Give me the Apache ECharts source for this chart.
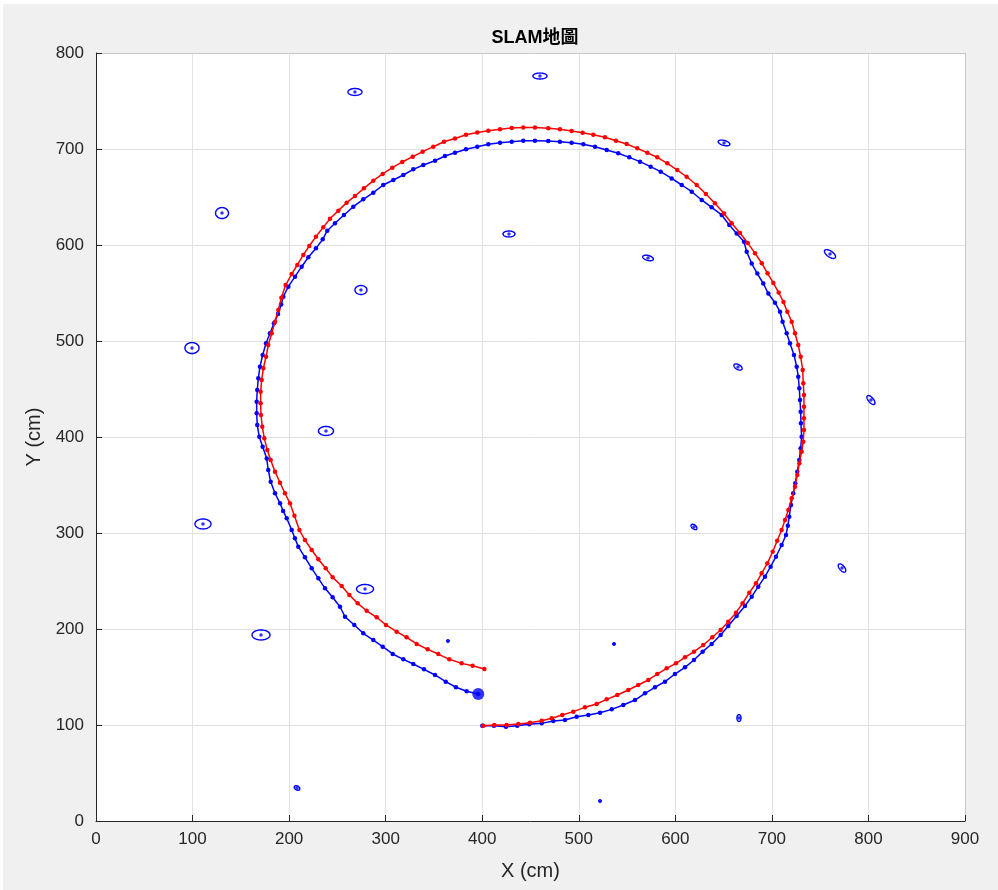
<!DOCTYPE html>
<html>
<head>
<meta charset="utf-8">
<script src="https://cdn.jsdelivr.net/npm/echarts@6/dist/echarts.min.js"></script>
<style>
html, body { margin: 0; padding: 0; background: #fff; }
#main { position: absolute; left: 3px; top: 4px; width: 995px; height: 886px; background: #f0f0f0; }
</style>
</head>
<body>
<div id="main"></div>
<script>
// true path (red), cm
var truePath = [
  [401.1,99.3],[412.5,100],[425.3,100],[437.4,101],[449.5,102.4],[461.6,104.5],[471.9,107],[482.9,110.4],
  [494.3,113.9],[506.4,118.4],[518.5,121.9],[528.9,126.7],[539.9,131.3],[551.3,136.5],[561.6,141.7],[572,146.9],
  [581.3,153.1],[591,159],[600.7,164.2],[610,170.5],[619.3,176.4],[628.9,183.3],[638.3,191.4],[646.9,199],
  [654.8,207.6],[662.8,217],[669.7,226.8],[676.6,237.8],[683.5,247.6],[689.4,258],[695.3,268.4],[700.8,280.5],
  [705.5,292],[710.1,303.1],[713.6,313.5],[717,324],[720.5,336.1],[723.9,348.2],[726.3,360.4],[728.4,372.6],
  [730.8,384.7],[732.5,395.1],[733.2,407.3],[733.2,419.5],[733.2,431.6],[733.2,443.8],[732.5,455.9],[731.9,469.8],
  [729.8,483.6],[727.3,495.8],[723.9,508],[720.5,520.1],[716,530.5],[712,540.5],[707,550.5],[701.5,560.5],
  [695.5,570.5],[689.5,581],[682.5,591.5],[675,602],[667,612.5],[658.3,622.6],[650.4,632.8],[641,643.4],
  [631.7,653.1],[622.1,662.5],[611.7,671.1],[602,678.1],[591.7,685.1],[581.3,691.3],[571,696.1],[560.6,700.7],
  [549.6,705.2],[538.5,708.6],[527.1,712.2],[515,714.9],[504,717],[492.6,718.8],[480.5,720.5],[468.4,721.5],
  [454.6,722.4],[442.5,722.4],[430.5,722],[418.4,720.6],[406.3,718.9],[394.9,717.2],[383.2,714.8],[371.8,711],
  [360.4,707.6],[349.3,702.4],[338.3,697.2],[328,692],[317.2,686.5],[306.9,680.5],[296.9,674],[287.2,667],
  [277.5,659],[268.2,651],[259.6,644.1],[251,635.8],[242.3,627.4],[235.4,618.4],[227.8,608.7],[220.9,599],
  [214.7,589.6],[208.5,579.2],[202.7,569.8],[196.4,558.3],[192,545],[188.8,532.3],[185.4,520.1],[182,508],
  [178.4,495.8],[176.1,483.6],[173.3,471.5],[171.6,459.4],[170.5,447.2],[170.5,435.1],[170.9,422.9],[172.2,410.7],
  [174.3,398.6],[177.4,386.5],[180.9,376],[185.4,363.9],[190.6,352.4],[195.7,341.4],[200.9,330.9],[205.5,318],
  [210.6,303.1],[216.4,292.7],[223.4,282.3],[230.3,272.6],[237.9,263.2],[245.1,253.8],[254.4,244.8],[262.4,235.4],
  [271,226.7],[280.3,219],[290.7,212.2],[300.3,204.2],[311.4,197.2],[321.7,191.3],[332.1,184.4],[343.5,178.8],
  [354.5,173.9],[365.9,168.4],[378.7,164.2],[390.1,161.8],[402.2,158.3]
];

// estimated path (blue), cm
var estPath = [
  [400.1,99.3],[412.2,99.3],[424.6,98.3],[436.3,99.3],[448.7,100.7],[461.6,101.7],[473.6,104.2],[485.7,105.2],
  [497.8,108.6],[509.9,110.4],[522,112.8],[534.1,116.3],[546.1,120.8],[558.2,126],[568.6,133],[578.9,139.3],
  [589.3,145.1],[599.6,153.1],[610,160.1],[619.3,167.7],[628.3,176.4],[637.6,184.4],[646.9,193.8],[654.8,203.1],
  [663.5,213.5],[672.1,224],[679.1,233.7],[685.9,244.1],[692.8,254.5],[698.7,264.9],[704.2,275.3],[710.1,287.5],
  [714.6,297.9],[716.5,307.5],[718,317],[719.8,329.2],[722.1,341.3],[724.2,351.8],[726.3,363.9],[728.4,376],
  [729.8,388.2],[730.8,400.3],[730.1,414.2],[729.8,426.4],[729.1,438.5],[728.4,450.7],[727.3,462.8],[725.7,473.3],
  [722.9,485.4],[718.7,497.6],[715.3,508],[711.1,520.1],[708.4,530.5],[703.2,539.9],[696.3,549.5],[691.1,559.9],
  [684.9,570.3],[679.1,580.7],[673.9,593],[671.1,603.4],[663.5,612],[655.9,620.8],[648,631.3],[637.6,639.2],
  [627.3,646.9],[617,655.5],[606.6,662.5],[596.2,669.3],[584.8,676.4],[574.4,681.6],[563.4,686.8],[552.3,691.3],
  [540.9,695.5],[528.9,699],[516.8,702.4],[504.7,704.9],[492.6,706.6],[480.5,707.6],[468.4,708.3],[454.6,708.6],
  [442.5,708.6],[430.5,707.6],[418.4,706.6],[406.3,704.9],[394.9,702.4],[383.2,699.7],[371.8,696.1],[361.4,692.7],
  [351.1,687.8],[339,683.3],[328.6,678.8],[318.3,672.9],[307.9,667.7],[297.5,662.5],[287.2,654.5],[276.8,647.6],
  [266.5,639.9],[256.8,631.3],[247.5,622.6],[239.5,614.9],[234.8,605.9],[227.8,596.5],[219.9,587.2],[213,577.4],
  [206.1,567],[199.2,556.6],[194,546.1],[191.8,538],[188.5,528],[184.3,518.4],[180.2,508],[176.1,497.6],
  [172.6,485.4],[169.8,473.2],[168.1,461.1],[167,449],[166.4,436.8],[166.4,424.7],[167,412.5],[169.1,400.3],
  [172.6,389.9],[176.8,377.6],[178.4,365.6],[180.9,353.4],[185.4,341.4],[190.6,330.9],[193.8,323],[197.5,315.3],
  [202.7,303.1],[206,294.5],[209.5,285.8],[216.4,274.7],[223.4,263.2],[230.3,252.8],[237.2,242.4],[245.1,233],
  [252.7,223.2],[257.9,212.8],[267.5,204.2],[276.8,195.5],[287.2,188.5],[296.9,181.6],[307.3,174],[318.3,168.4],
  [328.6,163.5],[339.7,158],[351.1,152.1],[362.2,145.1],[372.8,139.3],[383.9,135.1],[395.9,132.3]
];

// landmarks: centre (cm), ellipse semi-axes (cm), tilt (deg)
var lmX    = [268.2, 459.8, 130.5, 427.7, 650.4, 571.7, 760.2, 274.4,  99.4, 664.9, 802.6, 238.2, 110.8, 619.3, 772.6, 278.6, 170.9, 364.5, 536.5, 665.9, 208.2, 522.0];
var lmY    = [759.4, 776.0, 633.3, 611.5, 706.3, 586.5, 590.6, 553.1, 492.7, 472.9, 438.5, 406.3, 309.4, 306.3, 263.5, 241.7, 193.8, 187.5, 184.4, 107.3,  34.4,  20.8];
var lmA    = [  7.3,   7.3,   6.7,   6.2,   6.2,   5.7,   6.7,   6.2,   7.3,   4.7,   5.7,   7.8,   8.3,   3.6,   5.2,   8.8,   9.3,   1.2,   1.2,   2.1,   3.1,   1.2];
var lmB    = [  3.6,   3.1,   5.7,   3.1,   2.6,   2.6,   3.1,   4.7,   5.7,   2.6,   2.6,   4.7,   5.2,   2.1,   2.6,   4.7,   5.2,   1.2,   1.2,   3.6,   2.1,   1.2];
var lmTilt = [    0,     0,     0,     0,   -15,   -15,   -35,     0,     0,   -30,   -50,     0,     0,   -40,   -50,     0,     0,     0,     0,     0,   -30,     0];

var landmarks = lmX.map(function (x, i) { return [x, lmY[i], lmA[i], lmB[i], lmTilt[i]]; });
var lmCentres = lmX.map(function (x, i) { return [x, lmY[i]]; });

var FONT = '"Liberation Sans", Arial, "Noto Sans CJK TC", sans-serif';
var AXIS_COLOR = '#262626';

function renderEllipse(params, api) {
    var cx = api.value(0), cy = api.value(1);
    var a = api.value(2), b = api.value(3);
    var ang = api.value(4) * Math.PI / 180;
    var pts = [];
    for (var i = 0; i < 48; i++) {
        var t = i / 48 * Math.PI * 2;
        var dx = a * Math.cos(t), dy = b * Math.sin(t);
        pts.push(api.coord([
            cx + dx * Math.cos(ang) - dy * Math.sin(ang),
            cy + dx * Math.sin(ang) + dy * Math.cos(ang)
        ]));
    }
    return {
        type: 'polygon',
        shape: { points: pts },
        style: { fill: 'none', stroke: '#0000ff', lineWidth: 1.4 }
    };
}

var chart = echarts.init(document.getElementById('main'), null, { renderer: 'canvas' });

chart.setOption({
    backgroundColor: '#f0f0f0',
    animation: false,
    title: {
        text: 'SLAM地圖',
        left: 527,
        top: 20,
        textAlign: 'center',
        textStyle: { fontFamily: FONT, fontSize: 18, fontWeight: 'bold', color: '#000' }
    },
    grid: {
        left: 93, right: 33, top: 49, bottom: 69,
        show: true, backgroundColor: '#ffffff', borderWidth: 0
    },
    xAxis: [{
        type: 'value', min: 0, max: 900, interval: 100,
        name: 'X (cm)', nameLocation: 'middle', nameGap: 40,
        nameTextStyle: { fontFamily: FONT, fontSize: 20, color: AXIS_COLOR },
        axisLine: { onZero: false, lineStyle: { color: AXIS_COLOR, width: 1 } },
        axisTick: { inside: true, length: 6, lineStyle: { color: AXIS_COLOR } },
        axisLabel: { fontFamily: FONT, fontSize: 17, color: AXIS_COLOR, margin: 10 },
        splitLine: { lineStyle: { color: '#e2e2e2', width: 1 } }
    }, {
        type: 'value', min: 0, max: 900, interval: 100, position: 'top',
        axisLine: { onZero: false, lineStyle: { color: '#c8c8c8', width: 1 } },
        axisTick: { show: false }, axisLabel: { show: false }, splitLine: { show: false }
    }],
    yAxis: [{
        type: 'value', min: 0, max: 800, interval: 100,
        name: 'Y (cm)', nameLocation: 'middle', nameGap: 50,
        nameTextStyle: { fontFamily: FONT, fontSize: 20, color: AXIS_COLOR },
        axisLine: { show: true, onZero: false, lineStyle: { color: AXIS_COLOR, width: 1 } },
        axisTick: { show: true, inside: true, length: 6, lineStyle: { color: AXIS_COLOR } },
        axisLabel: { fontFamily: FONT, fontSize: 17, color: AXIS_COLOR, margin: 12 },
        splitLine: { lineStyle: { color: '#e2e2e2', width: 1 } }
    }, {
        type: 'value', min: 0, max: 800, interval: 100, position: 'right',
        axisLine: { show: true, onZero: false, lineStyle: { color: '#c8c8c8', width: 1 } },
        axisTick: { show: false }, axisLabel: { show: false }, splitLine: { show: false }
    }],
    series: [
        {
            name: 'estimate',
            type: 'line',
            data: estPath,
            symbol: 'circle',
            symbolSize: 4.5,
            showAllSymbol: true,
            lineStyle: { color: '#0000ff', width: 1.5 },
            itemStyle: { color: '#0000ff' },
            z: 3
        },
        {
            name: 'true',
            type: 'line',
            data: truePath,
            symbol: 'circle',
            symbolSize: 4.5,
            showAllSymbol: true,
            lineStyle: { color: '#ff0000', width: 1.5 },
            itemStyle: { color: '#ff0000' },
            z: 4
        },
        {
            name: 'landmarks',
            type: 'custom',
            data: landmarks,
            encode: { x: 0, y: 1 },
            renderItem: renderEllipse,
            z: 5
        },
        {
            name: 'landmark centres',
            type: 'scatter',
            data: lmCentres,
            symbol: 'circle',
            symbolSize: 3.5,
            itemStyle: { color: '#0000ff' },
            z: 6
        },
        {
            name: 'robot',
            type: 'scatter',
            data: [estPath[estPath.length - 1]],
            symbol: 'circle',
            symbolSize: 12,
            itemStyle: { color: '#0000ff' },
            z: 7
        }
    ]
});
</script>
</body>
</html>
